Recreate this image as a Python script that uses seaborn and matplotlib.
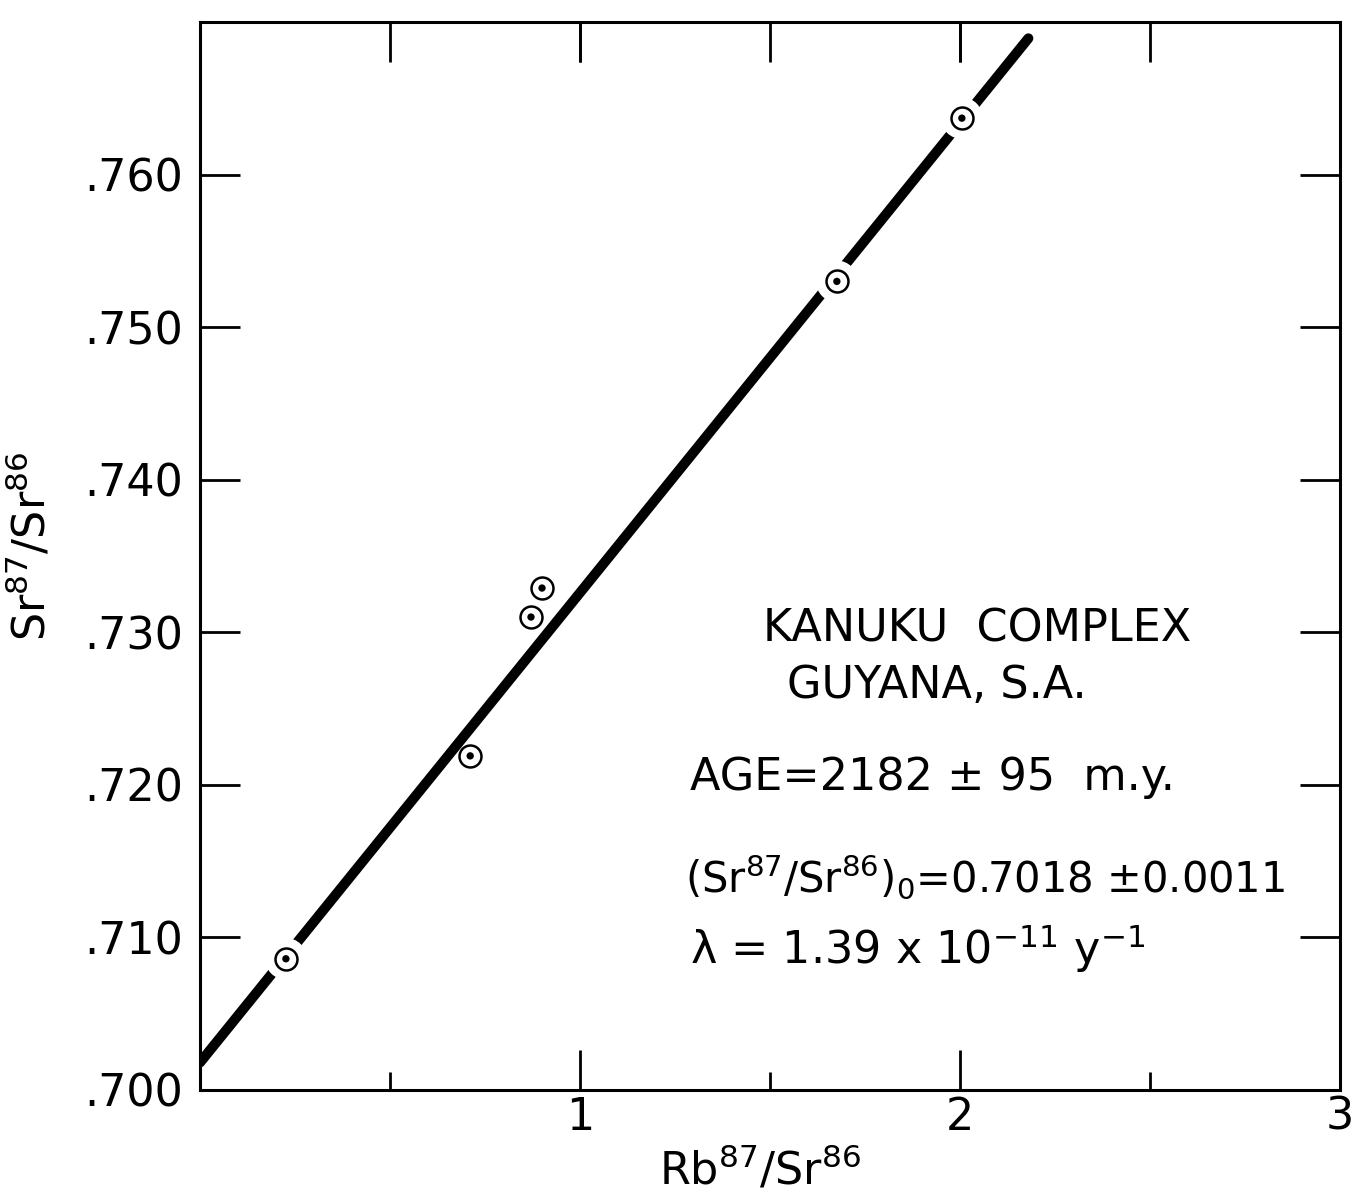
import numpy as np
import pandas as pd
import matplotlib
matplotlib.use("Agg")
import matplotlib.pyplot as plt
import seaborn as sns

# Whole-rock analyses, Kanuku Complex
rb_sr = [0.226, 0.711, 0.871, 0.900, 1.676, 2.005]
sr_sr = [0.7086, 0.7219, 0.7310, 0.7329, 0.7530, 0.7637]

# Isochron parameters
age_my = 2182
initial_ratio = 0.7018
decay_const = 1.39e-11
iso_x = [0.0, 2.18]

xticks_major = [1, 2, 3]
xtick_labels = ["1", "2", "3"]
xticks_minor = [0.5, 1.5, 2.5]
yticks = [0.700, 0.710, 0.720, 0.730, 0.740, 0.750, 0.760]
ytick_labels = [".700", ".710", ".720", ".730", ".740", ".750", ".760"]

sns.set_theme(style="white")
plt.rcParams["font.family"] = ["DejaVu Sans"]
plt.rcParams["mathtext.fontset"] = "dejavusans"
for key in ("text.color", "axes.labelcolor", "xtick.color", "ytick.color",
            "axes.edgecolor"):
    plt.rcParams[key] = "black"

slope = np.exp(decay_const * age_my * 1e6) - 1.0
iso = pd.DataFrame({"x": iso_x})
iso["y"] = initial_ratio + slope * iso["x"]
pts = pd.DataFrame({"x": rb_sr, "y": sr_sr})
pts["resid"] = pts["y"] - (initial_ratio + slope * pts["x"])
on_line = pts[pts["resid"].abs() < 0.001]

fig = plt.figure(figsize=(13.58, 12.04), dpi=100)
ax = fig.add_axes([0.1473, 0.0947, 0.8394, 0.887])

sns.lineplot(data=iso, x="x", y="y", ax=ax, color="black", lw=7.2,
             solid_capstyle="round", zorder=2)
# white halo breaks the isochron around points lying on it
sns.scatterplot(data=on_line, x="x", y="y", ax=ax, s=900, color="white",
                edgecolor="none", zorder=3)
sns.scatterplot(data=pts, x="x", y="y", ax=ax, s=250, facecolor="white",
                edgecolor="black", linewidth=1.8, zorder=4)
sns.scatterplot(data=pts, x="x", y="y", ax=ax, s=28, color="black",
                edgecolor="none", zorder=5)

ax.set_xlim(0, 3)
ax.set_ylim(0.700, 0.770)

ax.set_xticks(xticks_major)
ax.set_xticklabels(xtick_labels)
ax.set_xticks(xticks_minor, minor=True)
ax.set_yticks(yticks)
ax.set_yticklabels(ytick_labels)

ax.tick_params(axis="x", which="major", direction="in", length=29, width=2,
               top=True, bottom=True, labelsize=32, pad=4)
ax.tick_params(axis="x", which="minor", direction="in", length=13, width=2,
               bottom=True, top=False)
ax.tick_params(axis="y", which="major", direction="in", length=29, width=2,
               left=True, right=True, labelsize=32, pad=12)

# upper axis ticks every half unit
top = ax.secondary_xaxis("top")
top.set_xticks([0.5, 1.0, 1.5, 2.0, 2.5])
top.tick_params(direction="in", length=29, width=2, labeltop=False)
top.spines["top"].set_visible(False)

for sp in ax.spines.values():
    sp.set_linewidth(2.2)
    sp.set_color("black")
    sp.set_visible(True)

ax.set_xlabel(r"Rb$^{87}$/Sr$^{86}$", fontsize=32)
ax.set_ylabel(r"Sr$^{87}$/Sr$^{86}$", fontsize=32)
ax.xaxis.set_label_coords(0.491, -0.052)
ax.yaxis.set_label_coords(-0.128, 0.509)

ax.text(2.045, 0.7302, "KANUKU  COMPLEX", fontsize=32, ha="center", va="center")
ax.text(1.939, 0.7265, "GUYANA, S.A.", fontsize=32, ha="center", va="center")
ax.text(1.289, 0.7205, "AGE=2182 ± 95  m.y.", fontsize=32, ha="left", va="center")
ax.text(1.276, 0.7140, r"$(\mathrm{Sr}^{87}/\mathrm{Sr}^{86})_0$=0.7018 ±0.0011",
        fontsize=30, ha="left", va="center")
ax.text(1.289, 0.7093, r"λ = 1.39 x 10$^{-11}$ y$^{-1}$", fontsize=32,
        ha="left", va="center")

fig.savefig("out.png", dpi=100)
